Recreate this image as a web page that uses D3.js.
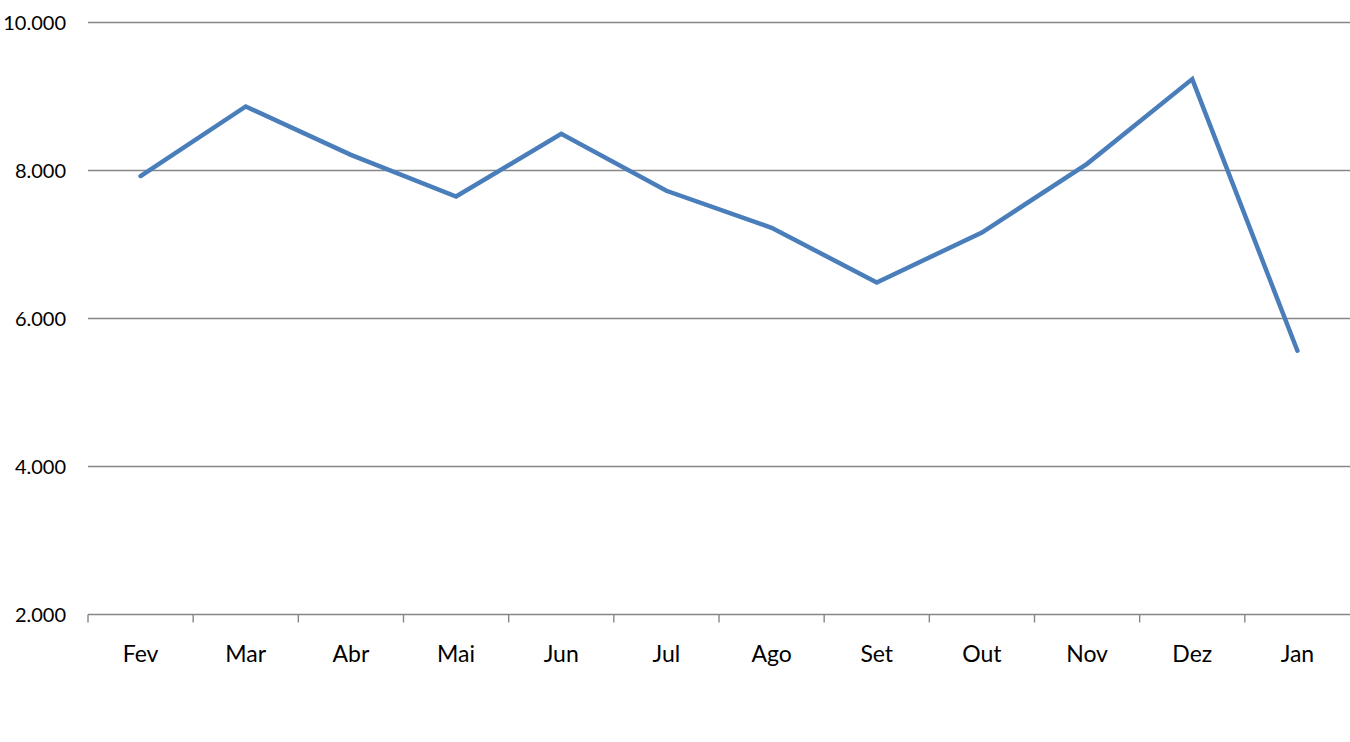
<!DOCTYPE html>
<html><head><meta charset="utf-8">
<script src="https://cdn.jsdelivr.net/npm/d3@7"></script>
<style>body{margin:0;background:#fff;}svg{display:block;}text{font-family:Lato,"Open Sans",sans-serif;fill:#000;}</style>
</head><body>
<script>
const categories = ["Fev","Mar","Abr","Mai","Jun","Jul","Ago","Set","Out","Nov","Dez","Jan"];
const values = [7925,8865,8212,7649,8496,7726,7226,6487,7162,8090,9235,5564];
const yTicks = [2000,4000,6000,8000,10000];

const W=1350,H=742;
const svg=d3.select("body").append("svg").attr("width",W).attr("height",H);
const x=d3.scaleBand().domain(categories).range([88,1350]);
const y=d3.scaleLinear().domain([2000,10000]).range([614.5,22.5]);
const fmt=v=>d3.format(",")(v).replace(/,/g,".");

svg.append("g").selectAll("line").data(yTicks).join("line")
  .attr("x1",88).attr("x2",1350).attr("y1",d=>y(d)).attr("y2",d=>y(d))
  .attr("stroke","#868686").attr("stroke-width",1.4);

svg.append("g").selectAll("text").data(yTicks).join("text")
  .attr("x",66).attr("y",d=>y(d)).attr("dy","0.35em").attr("text-anchor","end")
  .attr("font-size",20).text(fmt);

const xAxis=svg.append("g").attr("transform",`translate(0,${y(2000)})`)
  .call(d3.axisBottom(x).tickSize(0).tickPadding(0));
xAxis.select(".domain").remove();
xAxis.selectAll("text").attr("y",47).attr("dy",0).attr("font-size",23).attr("font-family","Lato,'Open Sans',sans-serif").attr("fill","#000");
const bounds=categories.map(c=>x(c));
svg.append("g").selectAll("line").data(bounds).join("line")
  .attr("x1",d=>d).attr("x2",d=>d).attr("y1",y(2000)).attr("y2",y(2000)+8)
  .attr("stroke","#868686").attr("stroke-width",1.4);

const line=d3.line().x((d,i)=>x(categories[i])+x.bandwidth()/2).y(d=>y(d));
svg.append("path").datum(values).attr("d",line).attr("fill","none")
  .attr("stroke","#4a7ebb").attr("stroke-width",4.5).attr("stroke-linejoin","miter").attr("stroke-linecap","round");
</script>
</body></html>
